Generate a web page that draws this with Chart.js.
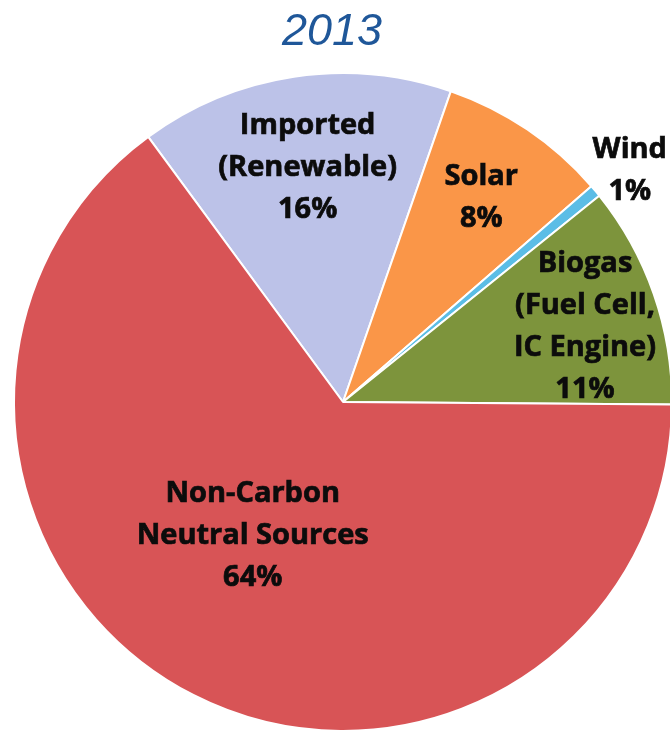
<!DOCTYPE html>
<html>
<head>
<meta charset="utf-8">
<script src="https://cdn.jsdelivr.net/npm/chart.js@4/dist/chart.umd.min.js"></script>
<style>
  html, body { margin: 0; padding: 0; background: #fff; overflow: hidden; }
  #wrap { width: 680px; height: 733px; }
</style>
</head>
<body>
<div id="wrap"><canvas id="pieChart" width="680" height="733"></canvas></div>
<script>
// values (share of total, %)
const sources = ['Imported (Renewable)', 'Solar', 'Wind', 'Biogas (Fuel Cell, IC Engine)', 'Non-Carbon Neutral Sources'];
const shares = [15.4, 8.3, 0.6, 10.9, 64.8];
const percentText = ['16%', '8%', '1%', '11%', '64%'];
const labelLines = [
    ['Imported', '(Renewable)'],
    ['Solar'],
    ['Wind'],
    ['Biogas', '(Fuel Cell,', 'IC Engine)'],
    ['Non-Carbon', 'Neutral Sources']
];
const sliceColors = ['#bcc2e8', '#fa9648', '#5bbde6', '#7d943c', '#d85456'];

// where each label sits: fraction of radius along the slice middle, plus angle shift (deg)
const labelPlace = [
    { r: 0.72, shift: 0 },
    { r: 0.75, shift: 0 },
    { r: 1.12, shift: 1 },
    { r: 0.77, shift: 2 },
    { r: 0.49, shift: 7 }
];

const sliceLabels = {
    id: 'sliceLabels',
    afterDatasetsDraw(chart) {
        const ctx = chart.ctx;
        const arcs = chart.getDatasetMeta(0).data;
        ctx.save();
        ctx.font = 'bold 29px "Open Sans"';
        ctx.fillStyle = '#0c0c0c';
        ctx.strokeStyle = '#0c0c0c';
        ctx.lineWidth = 0.7;
        ctx.textAlign = 'center';
        ctx.textBaseline = 'middle';
        arcs.forEach((arc, i) => {
            const p = arc.getProps(['x', 'y', 'startAngle', 'endAngle', 'outerRadius']);
            const mid = (p.startAngle + p.endAngle) / 2 + labelPlace[i].shift * Math.PI / 180;
            const dist = p.outerRadius * labelPlace[i].r;
            const cx = p.x + Math.cos(mid) * dist;
            const cy = p.y + Math.sin(mid) * dist;
            const lines = labelLines[i].concat([percentText[i]]);
            const lh = 42;
            const top = cy - (lines.length - 1) * lh / 2;
            lines.forEach((t, k) => {
                ctx.fillText(t, cx, top + k * lh);
                ctx.strokeText(t, cx, top + k * lh);
            });
        });

        // title
        ctx.font = 'italic 45px "Liberation Sans"';
        ctx.fillStyle = '#1f5799';
        ctx.textBaseline = 'alphabetic';
        ctx.fillText('2013', 332, 45);
        ctx.restore();
    }
};

const ctx = document.getElementById('pieChart').getContext('2d');
new Chart(ctx, {
    type: 'pie',
    data: {
        labels: sources,
        datasets: [{
            data: shares,
            backgroundColor: sliceColors,
            borderColor: '#ffffff',
            borderWidth: 2,
            hoverOffset: 0
        }]
    },
    options: {
        responsive: false,
        animation: false,
        rotation: -36.3,
        layout: { padding: { left: 13, right: 7, top: 72, bottom: 1 } },
        plugins: {
            legend: { display: false },
            tooltip: { enabled: false }
        }
    },
    plugins: [sliceLabels]
});
</script>
</body>
</html>
